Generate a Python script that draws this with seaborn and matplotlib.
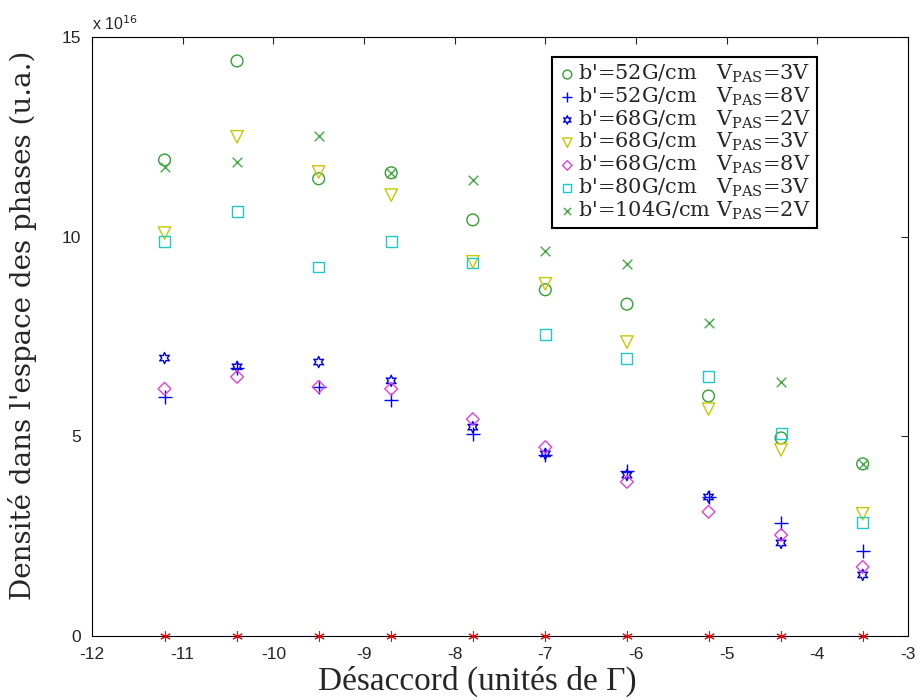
import numpy as np
import seaborn as sns
from matplotlib import pyplot as plt

sns.set_theme(style="white")
plt.rcParams['font.family'] = ['DejaVu Serif']
plt.rcParams['mathtext.fontset'] = 'dejavuserif'
plt.rcParams['axes.unicode_minus'] = False

# detuning (units of Gamma)
detuning = [-11.2, -10.4, -9.5, -8.7, -7.8, -7.0, -6.1, -5.2, -4.4, -3.5]

# phase space density, in units of 1e16
d52_3V = [11.92, 14.40, 11.45, 11.60, 10.42, 8.67, 8.31, 6.01, 4.96, 4.31]
d52_8V = [5.99, 6.71, 6.24, 5.91, 5.06, 4.53, 4.13, 3.48, 2.83, 2.13]
d68_2V = [6.96, 6.74, 6.86, 6.39, 5.23, 4.56, 4.03, 3.48, 2.33, 1.53]
d68_3V = [10.09, 12.50, 11.62, 11.04, 9.37, 8.82, 7.36, 5.68, 4.66, 3.06]
d68_8V = [6.19, 6.49, 6.24, 6.19, 5.43, 4.73, 3.86, 3.11, 2.53, 1.73]
d80_3V = [9.89, 10.62, 9.24, 9.89, 9.34, 7.54, 6.96, 6.49, 5.06, 2.85]
d104_2V = [11.75, 11.87, 12.52, 11.60, 11.42, 9.64, 9.32, 7.84, 6.36, 4.31]
zero_line = [0, 0, 0, 0, 0, 0, 0, 0, 0, 0]

labels = ["b'=52G/cm   V$_{\\mathrm{PAS}}$=3V",
          "b'=52G/cm   V$_{\\mathrm{PAS}}$=8V",
          "b'=68G/cm   V$_{\\mathrm{PAS}}$=2V",
          "b'=68G/cm   V$_{\\mathrm{PAS}}$=3V",
          "b'=68G/cm   V$_{\\mathrm{PAS}}$=8V",
          "b'=80G/cm   V$_{\\mathrm{PAS}}$=3V",
          "b'=104G/cm V$_{\\mathrm{PAS}}$=2V"]

fig = plt.figure(figsize=(9.18, 7.0), dpi=100)
ax = fig.add_axes([92/918, 64/700, 816/918, 599/700])

# (data, marker, color, size, outline only?)
series = [
    (d52_3V, 'o', '#33a033', 72, True),
    (d52_8V, '+', '#0000ff', 100, False),
    (d68_2V, (6, 1, 0), '#0000ee', 65, True),
    (d68_3V, 'v', '#c8c800', 80, True),
    (d68_8V, 'D', '#e040e0', 42, True),
    (d80_3V, 's', '#20c8c8', 62, True),
    (d104_2V, 'x', '#44aa44', 48, False),
]

for (vals, mk, col, sz, outline), lab in zip(series, labels):
    if outline:
        sns.scatterplot(x=detuning, y=vals, marker=mk, s=sz, facecolor='none',
                        edgecolor=col, linewidth=1.0, label=lab, ax=ax)
    else:
        sns.scatterplot(x=detuning, y=vals, marker=mk, s=sz, color=col,
                        linewidth=1.0, label=lab, ax=ax)

sns.scatterplot(x=detuning, y=zero_line, marker=(6, 2, 0), s=50, color='#ff0000',
                linewidth=0.7, ax=ax, clip_on=False, zorder=5)

ax.set_xlim(-12, -3)
ax.set_ylim(0, 15)
ax.set_xticks(range(-12, -2))
ax.set_yticks([0, 5, 10, 15])
ax.tick_params(direction='in', length=5, top=True, right=True, width=0.8,
               labelsize=12.5, pad=8)
for t in ax.get_xticklabels() + ax.get_yticklabels():
    t.set_family('Liberation Sans')
for sp in ax.spines.values():
    sp.set_color('black')
    sp.set_linewidth(0.8)

ax.set_xlabel("Désaccord (unités de Γ)", family='Liberation Serif', fontsize=24)
ax.set_ylabel("Densité dans l'espace des phases (u.a.)", fontsize=20)
ax.xaxis.set_label_coords(0.472, -0.05)
ax.yaxis.set_label_coords(-0.068, 0.519)
ax.text(0.0, 1.012, "x 10$^{16}$", transform=ax.transAxes, family='Liberation Sans',
        fontsize=11.5, math_fontfamily='dejavusans')

leg = ax.legend(loc='upper right', bbox_to_anchor=(0.888, 0.967), borderaxespad=0,
                fancybox=False, framealpha=1, edgecolor='black', fontsize=15,
                handletextpad=0.05, handlelength=0.9, labelspacing=0.02,
                borderpad=0.3, markerscale=0.75)
leg.get_frame().set_linewidth(1.5)

fig.savefig("out.png", dpi=100)
